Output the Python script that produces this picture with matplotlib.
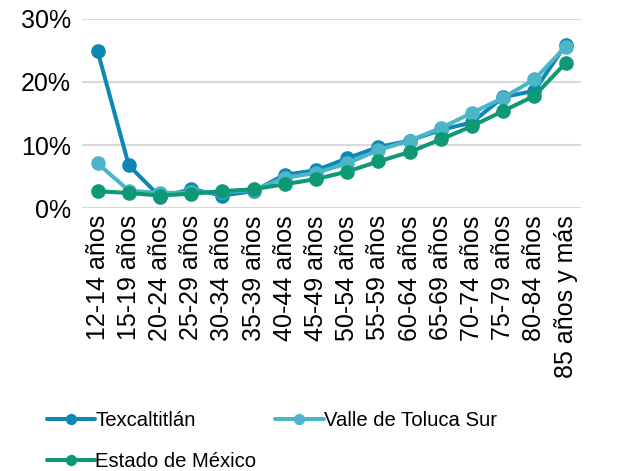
import matplotlib
matplotlib.use("Agg")
import matplotlib.pyplot as plt
from matplotlib.ticker import PercentFormatter

plt.rcParams['font.family'] = ['Liberation Sans', 'DejaVu Sans']

grupos = ['12-14 años', '15-19 años', '20-24 años', '25-29 años', '30-34 años',
          '35-39 años', '40-44 años', '45-49 años', '50-54 años', '55-59 años',
          '60-64 años', '65-69 años', '70-74 años', '75-79 años', '80-84 años',
          '85 años y más']

texcaltitlan = [24.9, 6.8, 1.8, 3.0, 2.0, 2.7, 5.3, 6.0, 7.9, 9.7,
                10.7, 12.4, 13.6, 17.6, 18.6, 25.9]
valle_toluca_sur = [7.1, 2.8, 2.4, 2.5, 2.5, 2.9, 4.8, 5.6, 7.1, 9.2,
                    10.7, 12.7, 15.1, 17.5, 20.4, 25.6]
estado_mexico = [2.7, 2.4, 2.0, 2.3, 2.7, 3.0, 3.8, 4.6, 5.8, 7.4,
                 8.9, 10.9, 13.0, 15.4, 17.8, 23.0]

series = [
    ('Texcaltitlán', texcaltitlan, '#0E87B5'),
    ('Valle de Toluca Sur', valle_toluca_sur, '#4BB6C7'),
    ('Estado de México', estado_mexico, '#0F9874'),
]

fig = plt.figure(figsize=(6.21, 4.71), dpi=100)
ax = fig.add_axes([0.132, 0.558, 0.804, 0.402])

x = range(len(grupos))
lineas = {}
for nombre, vals, color in series:
    ln, = ax.plot(x, [v / 100 for v in vals], color=color, lw=2.9, marker='o',
                  markersize=9.5, label=nombre, solid_capstyle='round')
    lineas[nombre] = ln

ax.set_ylim(0, 0.30)
ax.set_xlim(-0.5, len(grupos) - 0.5)
ax.set_yticks([0, 0.1, 0.2, 0.3])
ax.yaxis.set_major_formatter(PercentFormatter(1.0, decimals=0))
ax.set_xticks(list(x))
ax.set_xticklabels(grupos, rotation=90)
ax.tick_params(axis='both', length=0, labelsize=18, colors='#000000')
ax.tick_params(axis='x', pad=5)
ax.tick_params(axis='y', pad=8)
ax.grid(axis='y', color='#D9D9D9', lw=1.5)
ax.set_axisbelow(True)
for s in ax.spines.values():
    s.set_visible(False)

# orden por columnas: fila 1 Texcaltitlán / Valle, fila 2 Estado
orden = ['Texcaltitlán', 'Estado de México', 'Valle de Toluca Sur']
fig.legend([lineas[n] for n in orden], orden, loc='lower left',
           bbox_to_anchor=(0.046, -0.038), ncol=2, frameon=False,
           fontsize=14.6, handlelength=2.4, handletextpad=0.0, columnspacing=0.9,
           markerscale=0.75, labelspacing=1.05)

fig.savefig('out.png', dpi=100)
